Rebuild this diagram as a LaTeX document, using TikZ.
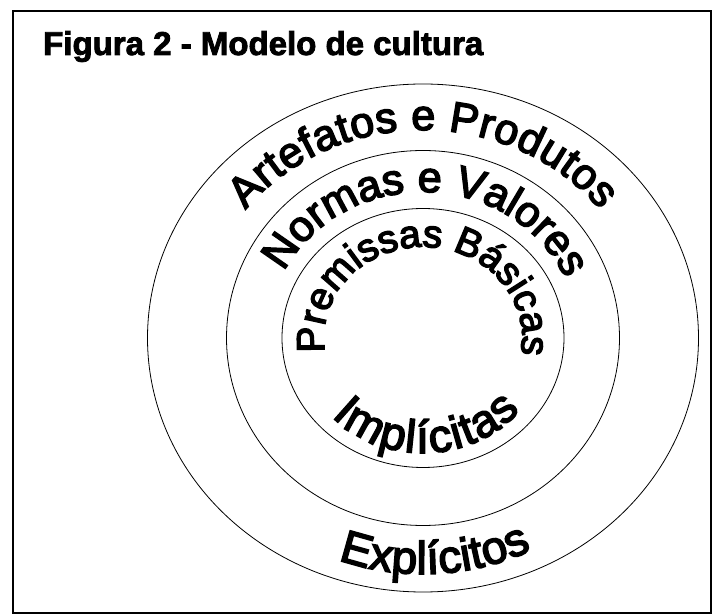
\documentclass[tikz,border=0pt]{standalone}
\usepackage{fontspec}
\setmainfont{Liberation Sans}
\newfontfamily\ringfont[FakeBold=3.5]{Liberation Sans}
\newfontfamily\headfont[BoldFeatures={FakeBold=2.5}]{Liberation Sans}
\usetikzlibrary{calc,decorations.text}
\newcommand{\ringsmall}{\ringfont\fontsize{39}{44}\selectfont}
\newcommand{\ringmid}{\ringfont\fontsize{43}{48}\selectfont}
\newcommand{\ringbig}{\ringfont\fontsize{46}{52}\selectfont}
\tikzset{
  ring/.style={draw=black, line width=0.8pt},
  ringtext/.style={decorate, decoration={text along path, text align=fit to path, text={#1}}},
  headline/.style={anchor=base west, inner sep=0pt, font=\headfont\bfseries\fontsize{33}{40}\selectfont}
}
\begin{document}
\begin{tikzpicture}[x=1pt,y=1pt]
  \useasboundingbox (0,0) rectangle (713,616);
  \draw[line width=2.5pt] (13,3) rectangle (711,605);
  \node[headline] (title) at (43,561) {Figura 2 - Modelo de cultura};
  \coordinate (c) at (423,278);
  \draw[ring] (c) ellipse [x radius=275.5pt, y radius=254pt];
  \draw[ring] (c) ellipse [x radius=196.5pt, y radius=187.5pt];
  \draw[ring] (c) ellipse [x radius=141pt, y radius=129.5pt];
  \path[ringtext={|\ringmid|Artefatos e Produtos}]
    ($(c)+(142:225pt and 208pt)$) arc[start angle=142, end angle=38, x radius=225pt, y radius=208pt];
  \path[ringtext={|\ringmid|Normas e Valores}]
    ($(c)+(153:156pt and 146pt)$) arc[start angle=153, end angle=25, x radius=156pt, y radius=146pt];
  \path[ringtext={|\ringsmall|Premissas Básicas}]
    ($(c)+(189:99pt and 91pt)$) arc[start angle=189, end angle=-6, x radius=99pt, y radius=91pt];
  \path[ringtext={|\ringbig|Implícitas}]
    ($(c)+(223:125pt and 115pt)$) arc[start angle=223, end angle=321, x radius=125pt, y radius=115pt];
  \path[ringtext={|\ringbig|Explícitos}]
    ($(c)+(250:248pt and 236pt)$) arc[start angle=250, end angle=296, x radius=248pt, y radius=236pt];
\end{tikzpicture}
\end{document}
